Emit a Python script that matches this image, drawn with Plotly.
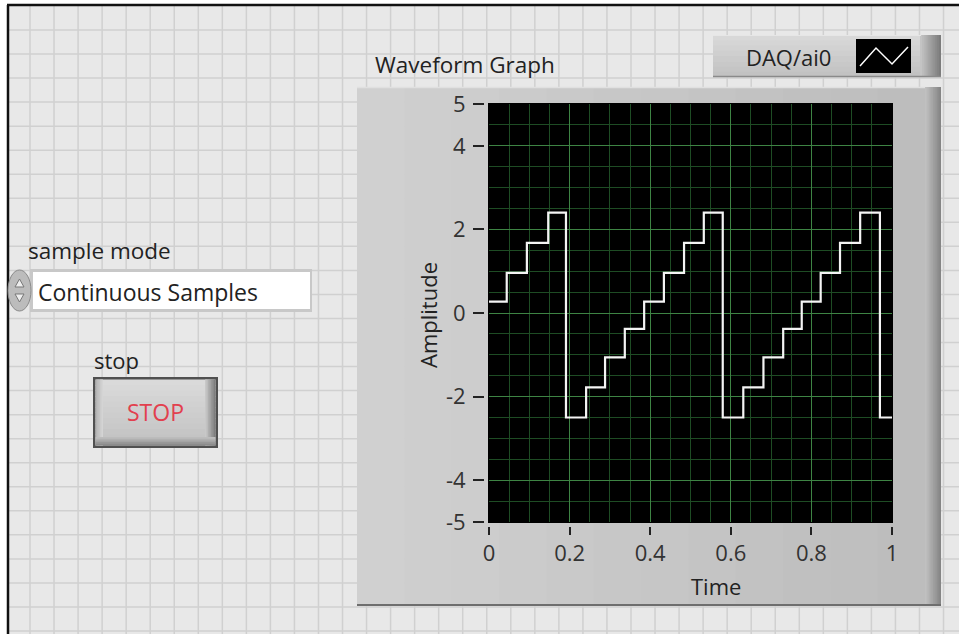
import plotly.graph_objects as go

W, H = 959, 634

# ---------------- data ----------------
step_times = [0.0, 0.044, 0.094, 0.147, 0.191, 0.241, 0.288, 0.337, 0.385, 0.434, 0.484,
              0.533, 0.580, 0.631, 0.681, 0.730, 0.776, 0.823, 0.871, 0.921, 0.970, 1.0]
step_levels = [0.27, 0.96, 1.68, 2.40, -2.50, -1.78, -1.06, -0.38, 0.27, 0.96, 1.68,
               2.40, -2.50, -1.78, -1.06, -0.38, 0.27, 0.96, 1.68, 2.40, -2.50, -2.50]
x_tick_vals = [0, 0.2, 0.4, 0.6, 0.8, 1]
x_tick_text = ["0", "0.2", "0.4", "0.6", "0.8", "1"]
y_tick_vals = [-5, -4, -2, 0, 2, 4, 5]
y_tick_text = ["-5", "-4", "-2", "0", "2", "4", "5"]

FONT = "Open Sans"


def px(x):
    return x / W


def py(y):
    return 1 - y / H


shapes = []


def rect(x0, y0, x1, y1, fill, line_color=None, lw=0):
    shapes.append(dict(type="rect", xref="paper", yref="paper",
                       x0=px(x0), x1=px(x1), y0=py(y1), y1=py(y0),
                       fillcolor=fill,
                       line=dict(width=lw, color=line_color or fill),
                       layer="below"))


def line(x0, y0, x1, y1, color, w=1):
    shapes.append(dict(type="line", xref="paper", yref="paper",
                       x0=px(x0), x1=px(x1), y0=py(y0), y1=py(y1),
                       line=dict(color=color, width=w), layer="below"))


def mix(c0, c1, t):
    a = [int(c0[i:i + 2], 16) for i in (1, 3, 5)]
    b = [int(c1[i:i + 2], 16) for i in (1, 3, 5)]
    return "#" + "".join("%02x" % round(a[k] + (b[k] - a[k]) * t) for k in range(3))


def hgrad(x0, y0, x1, y1, c0, c1, n):
    for i in range(n):
        t = i / (n - 1) if n > 1 else 0
        xa = x0 + (x1 - x0) * i / n
        xb = x0 + (x1 - x0) * (i + 1) / n
        rect(xa, y0, min(xb + 0.6, x1), y1, mix(c0, c1, t))


def vgrad(x0, y0, x1, y1, c0, c1, n):
    for i in range(n):
        t = i / (n - 1) if n > 1 else 0
        ya = y0 + (y1 - y0) * i / n
        yb = y0 + (y1 - y0) * (i + 1) / n
        rect(x0, ya, x1, min(yb + 0.6, y1), mix(c0, c1, t))


# ---------------- front-panel background ----------------
rect(0, 0, W, 4, "#ffffff")
rect(0, 0, 7, H, "#ffffff")
step = 24.04
k = 0
while 30 + step * k < W:
    line(30 + step * k, 6, 30 + step * k, H, "#d0d0d0", 1.5)
    k += 1
k = 0
while 30 + step * k < H:
    line(9, 30 + step * k, W, 30 + step * k, "#d0d0d0", 1.5)
    k += 1
line(8, 5, 8, H, "#111111", 2.5)
line(7, 5, W, 5, "#111111", 2.5)

# ---------------- legend box ----------------
vgrad(713, 35, 921, 77, "#d8d8d8", "#c2c2c2", 8)
hgrad(920, 35, 941, 77, "#c4c4c4", "#7c7c7c", 10)
line(713, 76.5, 941, 76.5, "#8a8a8a", 1.5)
line(713, 35.5, 921, 35.5, "#e6e6e6", 1)
rect(856, 39, 911, 73, "#000000")
shapes.append(dict(type="path", xref="paper", yref="paper", layer="below",
                   path="M %f %f L %f %f L %f %f L %f %f" % (
                       px(860), py(66), px(876), py(48), px(892), py(64), px(908), py(47)),
                   line=dict(color="#ffffff", width=1.5)))

# ---------------- graph frame ----------------
hgrad(357, 87, 925, 606, "#d0d0d0", "#bdbdbd", 12)
line(357, 87.5, 925, 87.5, "#e0e0e0", 1.5)
hgrad(925, 87, 941, 606, "#c0c0c0", "#858585", 10)
line(357, 605, 941, 605, "#6e6e6e", 2)
# plotting area (black screen)
rect(488, 103, 893, 523, "#000000")

# ---------------- sample mode ring ----------------
rect(30, 269, 312, 312, "#c8c8c8")
rect(33, 272, 310, 309, "#ffffff")
shapes.append(dict(type="circle", xref="paper", yref="paper", layer="below",
                   x0=px(8), x1=px(31), y0=py(311), y1=py(270),
                   fillcolor="#bcbcbc", line=dict(color="#8a8a8a", width=1)))
shapes.append(dict(type="path", xref="paper", yref="paper", layer="below",
                   path="M %f %f L %f %f L %f %f Z" % (px(15), py(287), px(24), py(287), px(19.5), py(279)),
                   fillcolor="#ededed", line=dict(color="#777777", width=1)))
shapes.append(dict(type="path", xref="paper", yref="paper", layer="below",
                   path="M %f %f L %f %f L %f %f Z" % (px(15), py(294), px(24), py(294), px(19.5), py(302)),
                   fillcolor="#ededed", line=dict(color="#777777", width=1)))

# ---------------- STOP button ----------------
rect(93, 377, 218, 448, "#505050")
vgrad(95.5, 379.5, 215.5, 445.5, "#dadada", "#c2c2c2", 12)
hgrad(95.5, 379.5, 103, 445.5, "#b4b4b4", "#d4d4d4", 5)
hgrad(205, 379.5, 215.5, 445.5, "#c8c8c8", "#7e7e7e", 7)
vgrad(95.5, 437, 215.5, 445.5, "#bcbcbc", "#8c8c8c", 5)

annotations = []


def text(x, y, s, size=22, color="#222222", anchor="left", angle=0):
    annotations.append(dict(x=px(x), y=py(y), xref="paper", yref="paper", text=s,
                            showarrow=False, xanchor=anchor, yanchor="middle",
                            textangle=angle,
                            font=dict(family=FONT, size=size, color=color)))


text(373, 64, "Waveform Graph", size=22.5)
text(788, 57, "DAQ/ai0", anchor="center")
text(26, 250, "sample mode", size=22.5)
text(36, 292, "Continuous Samples", size=23)
text(92, 360, "stop")
text(155, 412, "STOP", color="#e2404e", anchor="center", size=23)
text(428, 315, "Amplitude", angle=-90, anchor="center")
text(716, 586, "Time", anchor="center")

fig = go.Figure()
fig.add_trace(go.Scatter(x=step_times, y=step_levels, mode="lines",
                         line=dict(color="#f4f4f4", width=2.2, shape="hv"),
                         hoverinfo="skip", showlegend=False))

MAJ = "#3e8444"
MIN = "#1e4c24"

fig.update_layout(
    width=W, height=H,
    margin=dict(l=0, r=0, t=0, b=0, pad=0, autoexpand=False),
    paper_bgcolor="#e8e8e8",
    plot_bgcolor="#000000",
    shapes=shapes,
    annotations=annotations,
    showlegend=False,
    xaxis=dict(domain=[px(489), px(892)], range=[0, 1], tickmode="array",
               tickvals=x_tick_vals, ticktext=x_tick_text,
               anchor="free", position=py(526),
               ticks="outside", ticklen=8, tickwidth=2, tickcolor="#222222",
               showgrid=True, gridcolor=MAJ, gridwidth=1,
               minor=dict(dtick=0.05, tick0=0, showgrid=True, gridcolor=MIN, gridwidth=1, ticks=""),
               zeroline=False, showline=False, fixedrange=True, automargin=False,
               tickfont=dict(family=FONT, size=22, color="#333333")),
    yaxis=dict(domain=[py(522), py(104)], range=[-5, 5], tickmode="array",
               tickvals=y_tick_vals, ticktext=y_tick_text,
               anchor="free", position=px(484),
               ticks="outside", ticklen=11, tickwidth=2, tickcolor="#222222",
               ticklabelstandoff=3,
               showgrid=True, gridcolor=MAJ, gridwidth=1,
               minor=dict(dtick=0.5, tick0=0, showgrid=True, gridcolor=MIN, gridwidth=1, ticks=""),
               zeroline=False, showline=False, fixedrange=True, automargin=False,
               tickfont=dict(family=FONT, size=22, color="#333333")),
)

fig.write_html("out.html", config=dict(displayModeBar=False, staticPlot=True),
               post_script="document.body.style.margin='0px';document.body.style.overflow='hidden';")
